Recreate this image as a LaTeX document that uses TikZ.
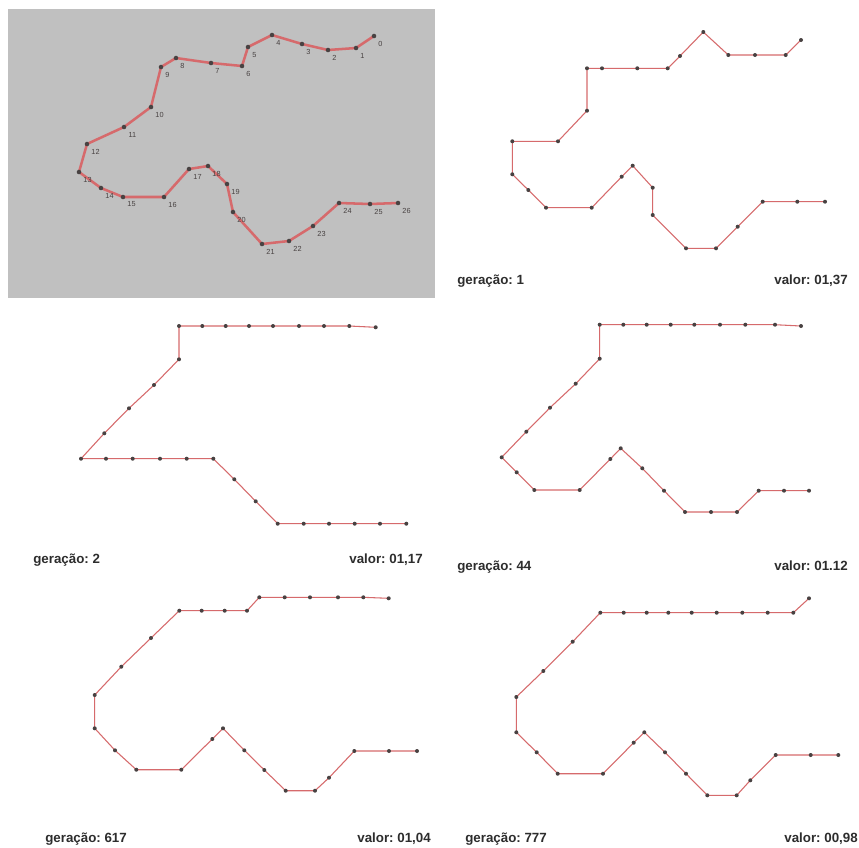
\documentclass[tikz,border=0pt]{standalone}
\usepackage{fontspec}
\setmainfont{Liberation Sans}
\frenchspacing

% a route: 27 named stops, joined in order, each stop marked with a dot
\newcommand\defroute[2]{%
  \foreach \x/\y [count=\i from 0] in {#2} {\coordinate (#1-\i) at (\x,\y);}}
\newcommand\drawroute[3][route]{%
  \draw[#1] (#2-0) \foreach \i in {1,...,26} {-- (#2-\i)};
  \foreach \i in {0,...,26} {\fill[stop] (#2-\i) circle[radius=#3];}}

\begin{document}
\begin{tikzpicture}[x=0.75pt,y=-0.75pt]
\definecolor{panelgray}{RGB}{192,192,192}
\definecolor{routered}{RGB}{214,106,108}
\definecolor{stopdot}{RGB}{72,66,66}
\definecolor{captext}{RGB}{45,45,45}
\tikzset{
  route/.style={draw=routered, line width=0.8pt, line join=round},
  thickroute/.style={draw=routered, line width=1.9pt, line join=round},
  stop/.style={fill=stopdot},
  stoplbl/.style={font=\fontsize{5.5}{5.5}\selectfont, text=stopdot, inner sep=0pt},
  caption/.style={font=\bfseries\fontsize{10}{12}\selectfont, text=captext, inner sep=0pt},
}
\useasboundingbox (0,0) rectangle (859,847);
\fill[white] (0,0) rectangle (859,847);

% ---- original route, numbered stops on grey ----
\fill[panelgray] (8,9) rectangle (435,298);
\defroute{G}{374/36,356/48,328/50,302/44,272/35,248/47,242/66,211/63,176/58,161/67,
  151/107,124/127,87/144,79/172,101/188,123/197,164/197,189/169,208/166,227/184,
  233/212,262/244,289/241,313/226,339/203,370/204,398/203}
\drawroute[thickroute]{G}{1.7pt}
\foreach \i in {0,...,9} {\path (G-\i) ++(6.5,8) node[stoplbl] (G-\i-lbl) {\i};}
\foreach \i in {10,...,26} {\path (G-\i) ++(8.5,7.5) node[stoplbl] (G-\i-lbl) {\i};}

% ---- generation 1 ----
\defroute{A}{801/40,785.7/55,755/55,728.3/55,703.3/32,680/56,667.7/68.3,637.3/68.3,
  602/68.3,587/68.3,587/110.7,558/141.3,512.3/141.3,512.3/174.3,528.3/190,546/207.7,
  591.7/207.7,621.7/176.7,632.7/165.7,652.7/187.7,652.7/215,686/248.3,716/248.3,
  737.7/226.7,762.7/201.7,797.3/201.7,825/201.7}
\drawroute{A}{1.5pt}
\node[caption, anchor=base west] (capA) at (457,284) {geração: 1};
\node[caption, anchor=base east] (valA) at (848,284) {valor: 01,37};

% ---- generation 2 ----
\defroute{B}{375.7/327.3,349.3/326,324/326,299/326,273/326,249/326,225.7/326,
  202.3/326,179/326,179/359.3,154/385,129/408.3,104.3/433.3,81/458.7,106/458.7,
  132.7/458.7,160/458.7,186.7/458.7,213.3/458.7,234.3/479.3,255.7/501.3,277.7/523.7,
  303.7/523.7,329/523.7,354.7/523.7,380/523.7,406.3/523.7}
\drawroute{B}{1.5pt}
\node[caption, anchor=base west] (capB) at (33,563) {geração: 2};
\node[caption, anchor=base east] (valB) at (423,563) {valor: 01,17};

% ---- generation 44 ----
\defroute{C}{801/326,775/324.7,745.3/324.7,720/324.7,694.3/324.7,670.7/324.7,
  646.7/324.7,623.3/324.7,599.7/324.7,599.7/358.7,575.7/383.7,550/407.7,526.3/431.7,
  501.7/457.3,516.7/472.3,534.3/490,579.7/490,610.3/459,620.7/448.3,642.3/468.3,
  664/490.7,685/512,711/512,737/512,758.7/490.7,784/490.7,809/490.7}
\drawroute{C}{1.5pt}
\node[caption, anchor=base west] (capC) at (457,570) {geração: 44};
\node[caption, anchor=base east] (valC) at (848,570) {valor: 01.12};

% ---- generation 617 ----
\defroute{D}{388.7/598.3,363.3/597.3,338/597.3,310/597.3,284.7/597.3,259.3/597.3,
  247/610.7,224.7/610.7,201.7/610.7,179.3/610.7,151/638,121.3/666.7,94.7/695,
  94.7/728.3,115/750.3,136.3/769.7,181.3/769.7,212.3/739,223/728.3,244.3/750.3,
  264.3/770,285.7/790.7,315/790.7,329/777.7,354.3/751,389/751,417/751}
\drawroute{D}{1.5pt}
\node[caption, anchor=base west] (capD) at (45,842) {geração: 617};
\node[caption, anchor=base east] (valD) at (431,842) {valor: 01,04};

% ---- generation 777 ----
\defroute{E}{809/598.3,793.3/612.7,767.7/612.7,742.3/612.7,716.7/612.7,691.7/612.7,
  668.3/612.7,646.7/612.7,623.7/612.7,600.3/612.7,572.7/641.7,543.3/671,516.3/697,
  516.3/732.3,536.7/752.3,557.7/773.7,603/773.7,633.7/742.7,644.3/732.3,665/752.3,
  686/773.7,707.3/795.3,736.7/795.3,750.3/780.3,775.7/755,810.7/755,838.3/755}
\drawroute{E}{1.5pt}
\node[caption, anchor=base west] (capE) at (465,842) {geração: 777};
\node[caption, anchor=base east] (valE) at (858,842) {valor: 00,98};
\end{tikzpicture}
\end{document}
